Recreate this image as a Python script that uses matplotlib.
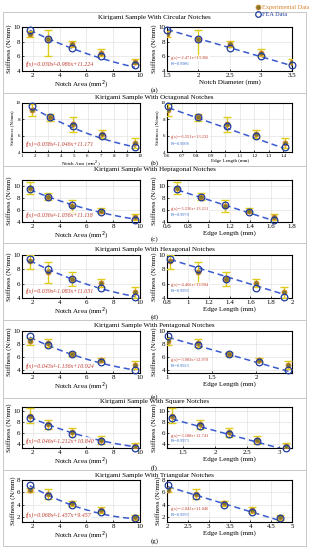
import numpy as np
import matplotlib
matplotlib.use('Agg')
import matplotlib.pyplot as plt
from matplotlib.patches import Rectangle
from matplotlib.lines import Line2D

plt.rcParams['font.family'] = ['Liberation Serif', 'DejaVu Serif']

# notch areas (mm^2), same for every shape
notch_area = [1.77, 3.14, 4.91, 7.07, 9.62]

shapes = ['Circular', 'Octagonal', 'Heptagonal', 'Hexagonal', 'Pentagonal', 'Square', 'Triangular']
letters = ['(a)', '(b)', '(c)', '(d)', '(e)', '(f)', '(g)']
right_xlabels = ['Notch Diameter (mm)'] + ['Edge Length (mm)'] * 6

# diameter / edge length per shape
size_circ = [1.5, 2.0, 2.5, 3.0, 3.5]
size_oct = [0.61, 0.81, 1.01, 1.21, 1.41]
size_hept = [0.70, 0.93, 1.16, 1.39, 1.63]
size_hex = [0.83, 1.10, 1.37, 1.65, 1.92]
size_pent = [1.01, 1.35, 1.69, 2.03, 2.36]
size_sq = [1.33, 1.77, 2.22, 2.66, 3.10]
size_tri = [2.02, 2.69, 3.37, 4.04, 4.71]
sizes = [size_circ, size_oct, size_hept, size_hex, size_pent, size_sq, size_tri]

# FEA stiffness (N/mm)
fea = [
    [9.6, 8.4, 7.2, 6.1, 4.8],
    [9.6, 8.3, 7.2, 6.0, 4.6],
    [9.5, 8.1, 6.8, 5.7, 4.3],
    [9.4, 8.0, 6.7, 5.4, 4.2],
    [9.2, 7.8, 6.4, 5.2, 4.0],
    [8.7, 7.2, 5.8, 4.5, 3.2],
    [7.2, 5.4, 4.0, 2.8, 1.8],
]
# experimental stiffness (N/mm) and error bar extents
exp_mean = [
    [9.1, 8.3, 7.7, 6.5, 5.2],
    [9.1, 8.3, 7.4, 6.2, 5.1],
    [9.6, 8.2, 6.6, 5.9, 4.8],
    [9.2, 7.6, 6.6, 6.1, 4.8],
    [8.4, 8.1, 6.4, 5.5, 4.7],
    [9.1, 7.5, 6.1, 4.7, 3.6],
    [6.4, 5.8, 4.2, 3.2, 2.0],
]
exp_lo = [
    [0.5, 2.2, 0.4, 0.4, 0.3],
    [0.7, 0.5, 0.9, 0.5, 0.6],
    [1.0, 0.6, 1.0, 0.4, 0.5],
    [1.2, 1.5, 0.9, 0.5, 0.8],
    [0.5, 0.6, 0.3, 0.3, 0.6],
    [1.4, 0.9, 0.8, 0.7, 0.6],
    [0.3, 0.8, 0.4, 0.5, 0.4],
]
exp_hi = [
    [0.4, 1.3, 0.4, 0.5, 0.4],
    [0.8, 0.3, 0.9, 0.5, 0.6],
    [1.0, 0.6, 1.0, 0.4, 0.5],
    [0.8, 1.4, 1.0, 0.5, 0.8],
    [0.5, 0.6, 0.3, 0.3, 0.6],
    [1.4, 0.9, 0.8, 0.7, 0.6],
    [0.3, 0.8, 0.4, 0.5, 0.4],
]
# fit coefficients (quadratic vs area, linear vs size)
quad_fit = [
    [0.030, -0.986, 11.224],
    [0.038, -1.046, 11.171],
    [0.036, -1.036, 11.118],
    [0.039, -1.083, 11.031],
    [0.043, -1.136, 10.924],
    [0.046, -1.212, 10.840],
    [0.068, -1.457, 9.457],
]
lin_fit = [
    [-2.471, 13.366],
    [-6.251, 13.232],
    [-5.536, 13.211],
    [-4.466, 13.094],
    [-3.903, 12.970],
    [-3.188, 12.741],
    [-2.042, 11.046],
]
r2 = ['0.9986', '0.9968', '0.9979', '0.9993', '0.9923', '0.9973', '0.9993']

# tick labels of the right-hand axes
right_ticks = [
    ['1.5', '2', '2.5', '3', '3.5'],
    ['0.6', '0.7', '0.8', '0.9', '1', '1.1', '1.2', '1.3', '1.4'],
    ['0.6', '0.8', '1', '1.2', '1.4', '1.6', '1.8'],
    ['0.8', '1', '1.2', '1.4', '1.6', '1.8', '2'],
    ['1', '1.5', '2'],
    ['1.5', '2', '2.5', '3'],
    ['2', '2.5', '3', '3.5', '4', '4.5', '5'],
]

# layout (pixels)
W, H = 309, 550
ax_px = [(27, 71), (103, 152), (180, 222), (255, 298), (331, 373), (407, 448), (480, 522)]
title_px = [18, 98, 170, 250, 326, 401, 475]
letter_px = [90, 163, 239, 317, 397, 468, 541]
box_px = [12, 93, 166, 243, 320, 398, 470, 546]
left_xlim = [(1.2, 10), (1, 10), (1.2, 10), (1.2, 10), (1.2, 10), (1.2, 10), (1.2, 10)]
right_xlim = [(1.5, 3.5), (0.6, 1.46), (0.6, 1.8), (0.8, 2.0), (1.0, 2.4), (1.25, 3.2), (2.0, 5.0)]
ylims = [(4, 10), (4, 10), (4, 11), (4, 10), (3.5, 10), (3.2, 10.7), (1.2, 8)]

exp_face = '#7d7a2c'
exp_edge = '#d9822b'
err_col = '#e0cc1a'
fea_col = '#1f3b9c'
line_col = '#3a5bd0'

fig = plt.figure(figsize=(W / 100, H / 100), dpi=100)

for i in range(7):
    fig.patches.append(Rectangle((3 / W, 1 - box_px[i + 1] / H), 303 / W,
                                 (box_px[i + 1] - box_px[i]) / H, transform=fig.transFigure,
                                 fill=False, edgecolor='#c8c8c8', lw=0.7))
    fig.text(0.5, 1 - title_px[i] / H, 'Kirigami Sample With %s Notches' % shapes[i],
             ha='center', va='center', fontsize=5)
    fig.text(0.5, 1 - letter_px[i] / H, letters[i], ha='center', va='center', fontsize=5)

    t, b = ax_px[i]
    small = 3.6 if i == 1 else 5
    for j, (l, w) in enumerate([(22, 118), (167, 125)]):
        ax = fig.add_axes([l / W, 1 - b / H, w / W, (b - t) / H])
        xs = notch_area if j == 0 else sizes[i]
        xlim = left_xlim[i] if j == 0 else right_xlim[i]
        xx = np.linspace(xs[0], xs[-1], 100)
        yy = np.polyval(quad_fit[i] if j == 0 else lin_fit[i], xx)
        ax.plot(xx, yy, '--', color=line_col, lw=1.1, dashes=(4, 2.5), zorder=2)
        ax.errorbar(xs, exp_mean[i], yerr=[exp_lo[i], exp_hi[i]], fmt='none',
                    ecolor=err_col, elinewidth=1.0, capsize=3, capthick=1.0, zorder=3)
        ax.plot(xs, exp_mean[i], 'o', ms=3.6, mfc=exp_face, mec=exp_edge, mew=0.6, zorder=4)
        ax.plot(xs, fea[i], 'o', ms=4.8, mfc='none', mec=fea_col, mew=0.9, zorder=5, clip_on=False)
        ax.set_xlim(xlim)
        ax.set_ylim(ylims[i])
        if j == 0:
            if i == 1:
                ax.set_xticks(range(1, 11))
            else:
                ax.set_xticks([2, 4, 6, 8, 10])
        else:
            ax.set_xticks([float(v) for v in right_ticks[i]])
            ax.set_xticklabels(right_ticks[i])
        ax.set_yticks([y for y in [2, 4, 6, 8, 10] if ylims[i][0] <= y <= ylims[i][1]])
        ax.grid(True, color='#dcdcdc', lw=0.4)
        ax.tick_params(labelsize=small, length=1.5, width=0.5, pad=1, direction='in')
        ax.tick_params(axis='x', pad=1.5)
        for s in ax.spines.values():
            s.set_linewidth(0.8)
        ax.set_ylabel('Stiffness (N/mm)', fontsize=small, labelpad=1)
        ax.set_xlabel('Notch Area (mm$^2$)' if j == 0 else right_xlabels[i],
                      fontsize=small, labelpad=0.5)
        box = dict(facecolor='white', edgecolor='none', alpha=0.8, pad=0.5)
        if j == 0:
            a, bb, c = quad_fit[i]
            txt = 'f(x)=%.3fx\u00b2%.3fx+%.3f' % (a, bb, c)
            ax.text(0.03, 0.17, txt, transform=ax.transAxes, fontsize=4.3, color='#c0392b',
                    style='italic', va='center', bbox=box)
        else:
            m, c = lin_fit[i]
            ax.text(0.03, 0.3, 'g(x)=%.3fx+%.3f' % (m, c), transform=ax.transAxes,
                    fontsize=3.2, color='#c0392b', va='center', bbox=box)
            ax.text(0.03, 0.17, 'R\u00b2=' + r2[i], transform=ax.transAxes,
                    fontsize=3.2, color='#3a6fd0', va='center')

handles = [Line2D([], [], ls='none', marker='o', ms=3.5, mfc=exp_face, mec=exp_edge, mew=0.6),
           Line2D([], [], ls='none', marker='o', ms=4, mfc='none', mec=fea_col, mew=0.9)]
leg = fig.legend(handles, ['Experimental Data', 'FEA Data'], loc='upper left',
                 bbox_to_anchor=(250 / W, 1.0), fontsize=4.5, frameon=False,
                 handletextpad=0.2, labelspacing=0.3, borderpad=0.2, handlelength=1)
leg.get_texts()[0].set_color('#d9822b')
leg.get_texts()[1].set_color('#1f3b9c')

fig.savefig('out.png', dpi=100)
